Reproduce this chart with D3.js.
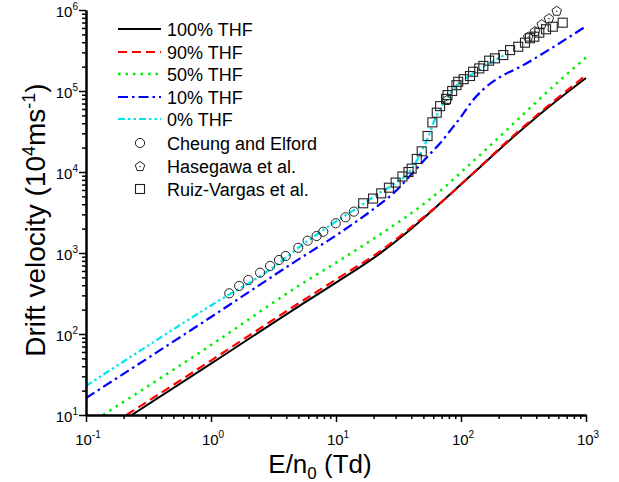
<!DOCTYPE html>
<html>
<head>
<meta charset="utf-8">
<script src="https://cdn.jsdelivr.net/npm/d3@7"></script>
<style>
  html, body { margin: 0; padding: 0; background: #fff; }
  svg { display: block; font-family: "Liberation Sans", Arial, sans-serif; }
</style>
</head>
<body>
<svg id="chart" width="619" height="482"></svg>
<script>
// ---------- data ----------
const xDomain = [0.1, 1000];
const yDomain = [10, 1e6];
const xMajorTicks = [0.1, 1, 10, 100, 1000];
const xTickExponents = ["-1", "0", "1", "2", "3"];
const yMajorTicks = [10, 100, 1000, 1e4, 1e5, 1e6];
const yTickExponents = ["1", "2", "3", "4", "5", "6"];

const seriesNames = ["100% THF", "90% THF", "50% THF", "10% THF", "0% THF"];

const thf100E = [0.232, 1, 5, 10, 22.5, 35, 47, 68, 98, 150, 262, 500, 1000];
const thf100V = [10, 43, 218, 430, 990, 1680, 2470, 4100, 6840, 12400, 27000, 63000, 145000];

const thf90E = [0.211, 1, 5, 10, 22.5, 35, 47, 68, 98, 150, 262, 500, 1000];
const thf90V = [10, 47, 238, 470, 1050, 1760, 2550, 4100, 6800, 12600, 28000, 66000, 156000];

const thf50E = [0.137, 1, 5.15, 10, 24.7, 50, 74.5, 92, 150, 300, 600, 1000];
const thf50V = [10, 73, 403, 760, 1860, 4000, 6580, 8800, 17500, 48000, 130000, 258000];

const thf10E = [0.1, 1, 4.7, 10, 20, 30, 40, 55, 68, 80, 100, 125, 151, 200, 300, 500, 1000];
const thf10V = [16.2, 162, 782, 1650, 3500, 5800, 9300, 16000, 22600, 31000, 48000, 77500, 105000, 145000, 200000, 320000, 630000];

const thf0E = [0.1, 1, 3.25, 5.15, 9.5, 15.6, 22.5, 30, 40, 45, 50, 55, 60, 68, 80, 95, 125, 160, 230];
const thf0V = [22.8, 225, 692, 1200, 2330, 3800, 5600, 7300, 10700, 14500, 20000, 27500, 40000, 60000, 88000, 122000, 165000, 210000, 285000];

const cheungE = [1.40, 1.68, 1.99, 2.47, 2.97, 3.50, 3.96, 4.99, 5.93, 7.0, 7.91, 9.95, 11.9, 13.9];
const cheungV = [318, 392, 464, 571, 692, 820, 919, 1160, 1420, 1620, 1830, 2330, 2760, 3240];

const hasegawaE = [77, 345, 391, 442, 505, 583];
const hasegawaV = [77500, 470000, 550000, 670000, 790000, 980000];

const ruizE = [16.5, 19.8, 23, 26.5, 30, 34, 38, 40.3, 44.3, 48.5, 54, 59, 64, 68, 76, 78, 85, 92, 95, 105, 118, 125, 140, 151, 168, 187, 218, 247, 287, 325, 356, 386, 423, 479, 542, 651];
const ruizV = [4110, 4700, 5450, 6400, 7400, 8800, 10000, 11000, 14500, 18000, 27800, 41000, 54000, 65000, 80000, 89000, 100000, 118000, 130000, 140000, 153000, 173000, 190000, 204000, 237000, 253000, 278000, 320000, 352000, 395000, 448000, 468000, 525000, 578000, 622000, 697000];

const markerNames = ["Cheung and Elford", "Hasegawa et al.", "Ruiz-Vargas et al."];

// ---------- layout ----------
const svg = d3.select("#chart");
const plot = { left: 86, right: 586, top: 10, bottom: 415 };
const x = d3.scaleLog().domain(xDomain).range([plot.left, plot.right]);
const y = d3.scaleLog().domain(yDomain).range([plot.bottom, plot.top]);

const zip = (a, b) => a.map((v, i) => [v, b[i]]);

svg.append("defs").append("clipPath").attr("id", "clip")
  .append("rect").attr("x", plot.left).attr("y", plot.top - 6)
  .attr("width", plot.right - plot.left + 4).attr("height", plot.bottom - plot.top + 6);

const lineGen = d3.line().x(d => x(d[0])).y(d => y(d[1])).curve(d3.curveMonotoneX);

const styles = [
  { color: "#000000", width: 2, dash: null },
  { color: "#ff0000", width: 2.2, dash: "9,5" },
  { color: "#00ee00", width: 2.5, dash: "2.5,5" },
  { color: "#0000ff", width: 2.2, dash: "10,4,2.5,4" },
  { color: "#00e5ee", width: 2.2, dash: "7,3,2.5,3,2.5,3" }
];
const series = [zip(thf100E, thf100V), zip(thf90E, thf90V), zip(thf50E, thf50V), zip(thf10E, thf10V), zip(thf0E, thf0V)];

const g = svg.append("g").attr("clip-path", "url(#clip)");

// draw order: cyan, blue, green, black, red so red dashes sit over black
[4, 3, 2, 0, 1].forEach(i => {
  g.append("path").datum(series[i])
    .attr("d", lineGen)
    .attr("fill", "none")
    .attr("stroke", styles[i].color)
    .attr("stroke-width", styles[i].width)
    .attr("stroke-dasharray", styles[i].dash);
});

// markers
const markerStroke = "#222";
function pentagonPath(r) {
  const pts = d3.range(5).map(k => {
    const a = -Math.PI / 2 + k * 2 * Math.PI / 5;
    return [r * Math.cos(a), r * Math.sin(a)];
  });
  return "M" + pts.map(p => p.join(",")).join("L") + "Z";
}
function drawCircle(sel, cx, cy) {
  sel.append("circle").attr("cx", cx).attr("cy", cy).attr("r", 4.6)
    .attr("fill", "none").attr("stroke", markerStroke).attr("stroke-width", 1);
}
function drawPent(sel, cx, cy) {
  sel.append("path").attr("d", pentagonPath(5)).attr("transform", `translate(${cx},${cy + 0.5})`)
    .attr("fill", "none").attr("stroke", markerStroke).attr("stroke-width", 1);
  sel.append("circle").attr("cx", cx).attr("cy", cy + 0.5).attr("r", 0.7).attr("fill", markerStroke);
}
function drawSquare(sel, cx, cy) {
  sel.append("rect").attr("x", cx - 4.5).attr("y", cy - 4.5).attr("width", 9).attr("height", 9)
    .attr("fill", "none").attr("stroke", markerStroke).attr("stroke-width", 1.1);
}

const mg = svg.append("g");
zip(cheungE, cheungV).forEach(d => drawCircle(mg, x(d[0]), y(d[1])));
zip(ruizE, ruizV).forEach(d => drawSquare(mg, x(d[0]), y(d[1])));
zip(hasegawaE, hasegawaV).forEach(d => drawPent(mg, x(d[0]), y(d[1])));

// ---------- axes ----------
function minorTicks(domain) {
  const out = [];
  for (let e = Math.log10(domain[0]); e < Math.log10(domain[1]); e++) {
    for (let m = 2; m <= 9; m++) out.push(m * Math.pow(10, e));
  }
  return out;
}

function styleAxis(sel) {
  sel.select(".domain").attr("stroke", "#000").attr("stroke-width", 2);
  sel.selectAll(".tick line").attr("stroke", "#000").attr("stroke-width", 1.5);
  sel.selectAll(".tick text").remove();
}

svg.append("g").attr("transform", `translate(0,${plot.bottom})`)
  .call(d3.axisBottom(x).tickValues(minorTicks(xDomain)).tickSize(4).tickSizeOuter(0).tickFormat(""))
  .call(styleAxis);
svg.append("g").attr("transform", `translate(0,${plot.bottom})`)
  .call(d3.axisBottom(x).tickValues(xMajorTicks).tickSize(7).tickSizeOuter(0).tickFormat(""))
  .call(styleAxis);
svg.append("g").attr("transform", `translate(${plot.left},0)`)
  .call(d3.axisLeft(y).tickValues(minorTicks(yDomain)).tickSize(4).tickSizeOuter(0).tickFormat(""))
  .call(styleAxis);
svg.append("g").attr("transform", `translate(${plot.left},0)`)
  .call(d3.axisLeft(y).tickValues(yMajorTicks).tickSize(7).tickSizeOuter(0).tickFormat(""))
  .call(styleAxis);

// tick labels with superscripts
xMajorTicks.forEach((v, i) => {
  const t = svg.append("text").attr("x", x(v) + 2).attr("y", 445)
    .attr("text-anchor", "middle").attr("font-size", 15).attr("fill", "#000");
  t.append("tspan").text("10");
  t.append("tspan").attr("dy", -7).attr("font-size", 10).text(xTickExponents[i]);
});
yMajorTicks.forEach((v, i) => {
  const t = svg.append("text").attr("x", 78).attr("y", y(v) + 7)
    .attr("text-anchor", "end").attr("font-size", 15).attr("fill", "#000");
  t.append("tspan").text("10");
  t.append("tspan").attr("dy", -7).attr("font-size", 10).text(yTickExponents[i]);
});

// axis titles
const xt = svg.append("text").attr("x", 320).attr("y", 473).attr("text-anchor", "middle")
  .attr("font-size", 26).attr("fill", "#000");
xt.append("tspan").text("E/n");
xt.append("tspan").attr("dy", 6).attr("font-size", 17).text("0");
xt.append("tspan").attr("dy", -6).text(" (Td)");

const yt = svg.append("text").attr("transform", `translate(45,220) rotate(-90)`)
  .attr("text-anchor", "middle").attr("font-size", 28).attr("fill", "#000");
yt.append("tspan").text("Drift velocity (10");
yt.append("tspan").attr("dy", -10).attr("font-size", 18).text("4");
yt.append("tspan").attr("dy", 10).text("ms");
yt.append("tspan").attr("dy", -10).attr("font-size", 18).text("-1");
yt.append("tspan").attr("dy", 10).text(")");

// ---------- legend ----------
const legRows = [29, 52, 74, 97, 119, 143, 166, 189];
const lg = svg.append("g");
seriesNames.forEach((name, i) => {
  lg.append("line").attr("x1", 118).attr("x2", 161).attr("y1", legRows[i]).attr("y2", legRows[i])
    .attr("stroke", styles[i].color).attr("stroke-width", styles[i].width)
    .attr("stroke-dasharray", styles[i].dash);
  lg.append("text").attr("x", 167).attr("y", legRows[i] + 6.5).attr("font-size", 18).text(name);
});
markerNames.forEach((name, j) => {
  const cy = legRows[5 + j];
  if (j === 0) drawCircle(lg, 140, cy);
  if (j === 1) drawPent(lg, 140, cy);
  if (j === 2) drawSquare(lg, 140, cy);
  lg.append("text").attr("x", 167).attr("y", cy + 6.5).attr("font-size", 18).text(name);
});
</script>
</body>
</html>
